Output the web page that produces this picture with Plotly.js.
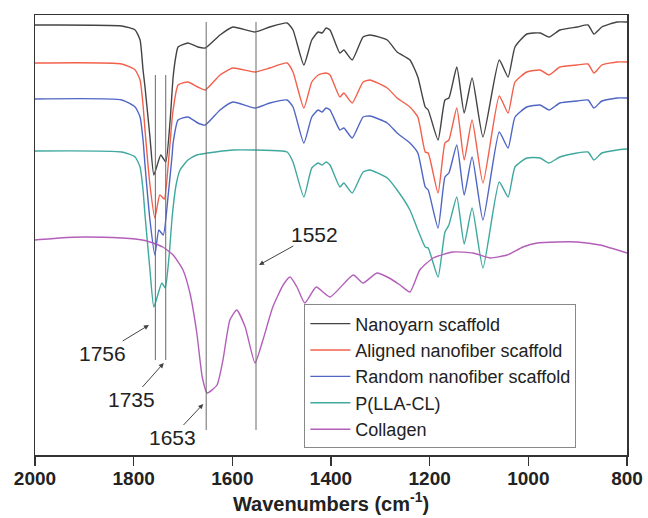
<!DOCTYPE html>
<html>
<head>
<meta charset="utf-8">
<script src="https://cdn.plot.ly/plotly-3.0.1.min.js"></script>
<style>html,body{margin:0;padding:0;background:#fff;}#chart{width:648px;height:518px;}</style>
</head>
<body>
<div id="chart"></div>
<script>
// Wavenumbers (cm^-1) and transmittance (arbitrary units, offset stacked)
const nanoyarnX = [2000,1824,1797,1787,1781,1777,1767,1759,1745,1735,1726,1720,1714,1710,1690,1670,1655,1625,1599,1554,1524,1489,1477,1455,1439,1426,1418,1410,1402,1382,1374,1357,1335,1321,1286,1266,1240,1224,1209,1203,1183,1169,1161,1145,1130,1114,1092,1059,1041,1027,1003,976,958,936,901,879,867,851,820,800];
const nanoyarnY = [433,432,428,418,388,371,321,283,303,296,338,381,403,411,415,411,410,423,431,426,431,435,428,393,418,426,425,430,428,405,408,398,421,423,418,406,398,381,351,348,318,358,360,391,345,380,321,398,381,411,424,425,421,428,431,433,424,431,436,436];

const alignedX = [2000,1824,1797,1787,1781,1777,1767,1757,1747,1738,1730,1722,1720,1710,1690,1670,1655,1625,1599,1554,1524,1489,1477,1455,1439,1426,1410,1402,1382,1374,1357,1335,1321,1286,1266,1240,1224,1209,1203,1183,1169,1161,1145,1130,1114,1092,1059,1041,1027,1003,976,958,936,901,879,867,851,820,800];
const alignedY = [395,394,388,378,353,328,273,240,263,259,293,340,348,373,376,371,368,383,390,386,390,395,386,350,376,383,385,383,361,365,355,376,378,370,360,351,341,306,305,265,315,318,350,298,338,275,362,345,376,386,388,383,391,393,394,385,393,396,396];

const randomX = [2000,1824,1797,1787,1781,1777,1767,1757,1749,1740,1730,1722,1720,1710,1690,1670,1655,1625,1599,1554,1524,1489,1477,1455,1439,1426,1418,1410,1402,1382,1374,1357,1335,1321,1286,1266,1240,1224,1209,1203,1183,1169,1161,1145,1130,1114,1092,1059,1041,1027,1003,976,958,936,901,879,867,851,820,800];
const randomY = [359,358,351,341,318,293,238,203,228,223,263,303,315,338,341,335,333,348,356,350,355,358,351,315,341,348,346,350,348,328,330,320,341,342,335,325,315,305,271,268,230,281,285,313,263,301,238,326,310,341,351,353,348,355,357,358,350,357,360,360];

const pllaX = [2000,1824,1797,1787,1781,1777,1767,1759,1743,1736,1728,1722,1714,1706,1690,1672,1650,1599,1554,1500,1489,1477,1455,1439,1426,1418,1410,1402,1382,1374,1357,1335,1321,1286,1266,1240,1224,1209,1203,1183,1169,1161,1145,1130,1114,1092,1059,1041,1027,1003,976,958,936,901,879,867,851,820,800];
const pllaY = [307,306,301,291,268,243,188,151,175,170,203,241,273,288,298,303,305,308,308,307,306,296,261,290,295,293,296,293,271,275,265,286,288,280,268,248,228,211,210,181,226,233,261,214,250,190,276,261,291,300,300,295,301,305,306,298,305,308,309];

const collagenX = [2000,1950,1900,1824,1797,1773,1741,1720,1700,1686,1672,1661,1651,1631,1619,1605,1591,1574,1554,1538,1518,1497,1483,1469,1453,1430,1402,1355,1335,1307,1286,1260,1240,1220,1193,1153,1112,1078,1043,1011,982,942,901,855,800];
const collagenY = [218,220,221,220,219,217,211,203,188,165,125,81,65,73,98,138,148,131,95,118,151,173,181,171,155,171,161,183,175,185,181,173,166,188,200,206,205,200,203,211,215,216,216,213,205];

const seriesNames = ["Nanoyarn scaffold","Aligned nanofiber scaffold","Random nanofiber scaffold","P(LLA-CL)","Collagen"];
const seriesColors = ["#444444","#f2604c","#5066c4","#3fa89f","#b35fba"];

// Marker lines (peak positions) and their vertical extent
const peakLines = [1756, 1735, 1653, 1552];
const peakLow  = [98, 98, 28, 28];
const peakHigh = [383, 383, 436, 436];

// Peak labels: text, arrow tip position
const labelText = ["1756","1735","1653","1552"];
const labelTipX = [1769, 1739, 1659, 1546];
const labelTipY = [133, 95, 54, 193];
const labelAx = [-46, -32, -31, 56];
const labelAy = [28, 36, 33, -31];

const tickVals = [2000,1800,1600,1400,1200,1000,800];

const xs = [nanoyarnX, alignedX, randomX, pllaX, collagenX];
const ys = [nanoyarnY, alignedY, randomY, pllaY, collagenY];

const FONT = 'Liberation Sans, Arial, sans-serif';

const traces = seriesNames.map((n, i) => ({
  x: xs[i], y: ys[i], name: n, type: 'scatter', mode: 'lines',
  line: {color: seriesColors[i], width: 1.4, shape: 'spline', smoothing: 0.5}
}));

const shapes = peakLines.map((p, i) => ({
  type: 'line', xref: 'x', yref: 'y', x0: p, x1: p, y0: peakLow[i], y1: peakHigh[i],
  line: {color: '#6a6a6a', width: 1}
}));

const annotations = labelText.map((t, i) => ({
  x: labelTipX[i], y: labelTipY[i], xref: 'x', yref: 'y', text: t,
  showarrow: true, ax: labelAx[i], ay: labelAy[i], axref: 'pixel', ayref: 'pixel',
  arrowhead: 2, arrowsize: 1, arrowwidth: 1, arrowcolor: '#444', standoff: 0, borderpad: 0,
  font: {family: FONT, size: 21, color: '#222'}
}));

const layout = {
  width: 648, height: 518,
  margin: {l: 35, r: 21, t: 15, b: 63},
  paper_bgcolor: '#fff', plot_bgcolor: '#fff',
  showlegend: true,
  legend: {x: 0.455, y: 0.015, xanchor: 'left', yanchor: 'bottom',
    bgcolor: 'rgba(255,255,255,0.9)', bordercolor: '#888', borderwidth: 1,
    font: {family: FONT, size: 18, color: '#222'},
    tracegroupgap: 0, itemwidth: 40},
  xaxis: {range: [2000, 800], tickvals: tickVals, ticks: 'outside', ticklen: 9, tickwidth: 1.2,
    tickcolor: '#333', showgrid: false, zeroline: false, showline: true, linecolor: '#333',
    linewidth: 1.5, mirror: true, ticklabelstandoff: -3,
    tickfont: {family: FONT, size: 19, color: '#222', weight: 'bold'},
    title: {text: 'Wavenumbers (cm<sup>-1</sup>)', standoff: 8,
      font: {family: FONT, size: 20, color: '#222', weight: 'bold'}}},
  yaxis: {range: [3, 443], showticklabels: false, ticks: '', showgrid: false, zeroline: false,
    showline: true, linecolor: '#333', linewidth: 1.5, mirror: true},
  shapes: shapes,
  annotations: annotations
};

Plotly.newPlot('chart', traces, layout, {displayModeBar: false, staticPlot: true});
</script>
</body>
</html>
